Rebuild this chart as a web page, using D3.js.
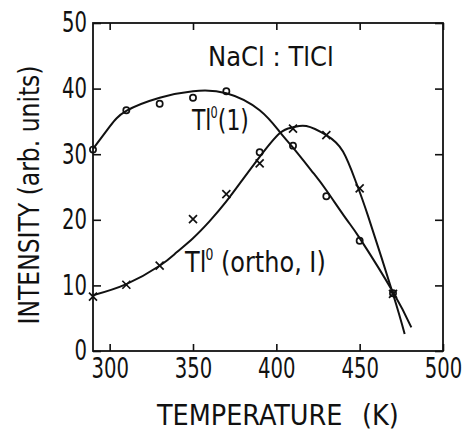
<!DOCTYPE html>
<html lang="en">
<head>
  <meta charset="UTF-8">
  <title>NaCl:TlCl intensity vs temperature</title>
  <script src="https://d3js.org/d3.v7.min.js"></script>
  <style>
    * { margin: 0; padding: 0; }
    body { background: #fff; }
    svg text { font-family: "DejaVu Sans Condensed", "DejaVu Sans", sans-serif; fill: #111; }
  </style>
</head>
<body>
  <div class="chart"></div>
  <script>
    var width = 467;
    var height = 434;

    // measured points
    var temps = [290, 310, 330, 350, 370, 390, 410, 430, 450, 470];
    var tl1 = [30.7, 36.7, 37.7, 38.6, 39.6, 30.3, 31.3, 23.6, 16.8, 8.8];
    var tlOrtho = [8.3, 10.1, 13.0, 20.1, 23.9, 28.6, 33.9, 32.9, 24.8, 8.7];

    // fitted curves
    var fit1T = [290, 300, 310, 330, 350, 370, 390, 402, 410, 422, 430, 442, 450, 470, 481];
    var fit1I = [30.8, 34.2, 36.6, 38.6, 39.6, 39.3, 36.7, 33.4, 31.0, 27.2, 24.5, 20.1, 17.2, 9.0, 3.6];
    var fit2T = [290, 310, 330, 340, 350, 360, 370, 380, 390, 402, 410, 418, 430, 440, 448, 455, 470, 477];
    var fit2I = [8.5, 10.2, 13.0, 15.0, 17.2, 19.8, 22.8, 26.2, 29.6, 33.2, 34.1, 34.3, 32.9, 30.4, 25.6, 20.6, 8.7, 2.6];

    var xTicks = [300, 350, 400, 450, 500];
    var yTicks = [0, 10, 20, 30, 40, 50];

    var mLeft = 93, mRight = 443, mTop = 23, mBottom = 351;
    var narrow = 0.78; // the original lettering is much narrower than DejaVu

    var svg = d3.select('.chart')
      .append('svg')
      .attr('width', width)
      .attr('height', height);

    var xScale = d3.scaleLinear().domain([290, 500]).range([mLeft, mRight]);
    var yScale = d3.scaleLinear().domain([0, 50]).range([mBottom, mTop]);

    // axes with inward ticks
    svg.append('g')
      .attr('transform', 'translate(0,' + mBottom + ')')
      .call(d3.axisBottom(xScale).tickValues(xTicks).tickSize(-7).tickPadding(7));
    svg.append('g')
      .attr('transform', 'translate(0,' + mTop + ')')
      .call(d3.axisTop(xScale).tickValues(xTicks).tickSize(-7).tickFormat(''));
    var gy = svg.append('g')
      .attr('transform', 'translate(' + mLeft + ',0)')
      .call(d3.axisLeft(yScale).tickValues(yTicks).tickSize(-8).tickPadding(6));
    svg.append('g')
      .attr('transform', 'translate(' + mRight + ',0)')
      .call(d3.axisRight(yScale).tickValues(yTicks).tickSize(-8).tickFormat(''));

    svg.selectAll('.domain').remove();
    svg.selectAll('.tick line').attr('stroke', '#111').attr('stroke-width', 1.6);
    svg.selectAll('.tick text').style('font-size', '28px')
      .attr('transform', 'scale(' + narrow + ',1)');
    gy.selectAll('.tick text').attr('x', -6 / narrow);

    svg.append('rect')
      .attr('x', mLeft).attr('y', mTop)
      .attr('width', mRight - mLeft).attr('height', mBottom - mTop)
      .attr('fill', 'none')
      .attr('stroke', '#111')
      .attr('stroke-width', 1.8);

    // fitted curves
    var line = d3.line()
      .x(function (d) { return xScale(d[0]); })
      .y(function (d) { return yScale(d[1]); })
      .curve(d3.curveNatural);

    svg.append('path')
      .attr('d', line(d3.zip(fit1T, fit1I)))
      .attr('fill', 'none').attr('stroke', '#111').attr('stroke-width', 2);
    svg.append('path')
      .attr('d', line(d3.zip(fit2T, fit2I)))
      .attr('fill', 'none').attr('stroke', '#111').attr('stroke-width', 2);

    // circles
    svg.selectAll('.circ')
      .data(d3.zip(temps, tl1))
      .enter()
      .append('circle')
      .attr('class', 'circ')
      .attr('cx', function (d) { return xScale(d[0]); })
      .attr('cy', function (d) { return yScale(d[1]); })
      .attr('r', 3.1)
      .attr('fill', 'none')
      .attr('stroke', '#111')
      .attr('stroke-width', 1.7);

    // crosses
    var s = 4;
    svg.selectAll('.cross')
      .data(d3.zip(temps, tlOrtho))
      .enter()
      .append('path')
      .attr('class', 'cross')
      .attr('d', function (d) {
        var cx = xScale(d[0]), cy = yScale(d[1]);
        return 'M' + (cx - s) + ',' + (cy - s) + 'L' + (cx + s) + ',' + (cy + s) +
          'M' + (cx - s) + ',' + (cy + s) + 'L' + (cx + s) + ',' + (cy - s);
      })
      .attr('stroke', '#111')
      .attr('stroke-width', 1.7);

    // text placed at (x,y), squeezed horizontally by sx
    function label(x, y, size, sx, rot) {
      return svg.append('text')
        .attr('transform', 'translate(' + x + ',' + y + ')' + (rot ? ' rotate(' + rot + ')' : '') +
          ' scale(' + sx + ',1)')
        .style('font-size', size + 'px');
    }

    // annotations
    label(208, 66, 27, 1).text('NaCl : TlCl');

    var t1 = label(192, 130, 29, 0.84);
    t1.append('tspan').text('Tl');
    t1.append('tspan').attr('dy', -12).attr('dx', -1).style('font-size', '15px').text('0');
    t1.append('tspan').attr('dy', 12).text('(1)');

    var t2 = label(185, 272, 29, 0.92);
    t2.append('tspan').text('Tl');
    t2.append('tspan').attr('dy', -12).attr('dx', -1).style('font-size', '15px').text('0');
    t2.append('tspan').attr('dy', 12).text(' (ortho, I)');

    // axis titles
    var xsx = 0.98;
    var xt = label(157, 425, 29, xsx);
    xt.append('tspan').text('TEMPERATURE');
    xt.append('tspan').attr('x', (362 - 157) / xsx).text('(K)');

    label(39, 195, 29, 0.9, -90)
      .attr('text-anchor', 'middle')
      .text('INTENSITY (arb. units)');
  </script>
</body>
</html>
